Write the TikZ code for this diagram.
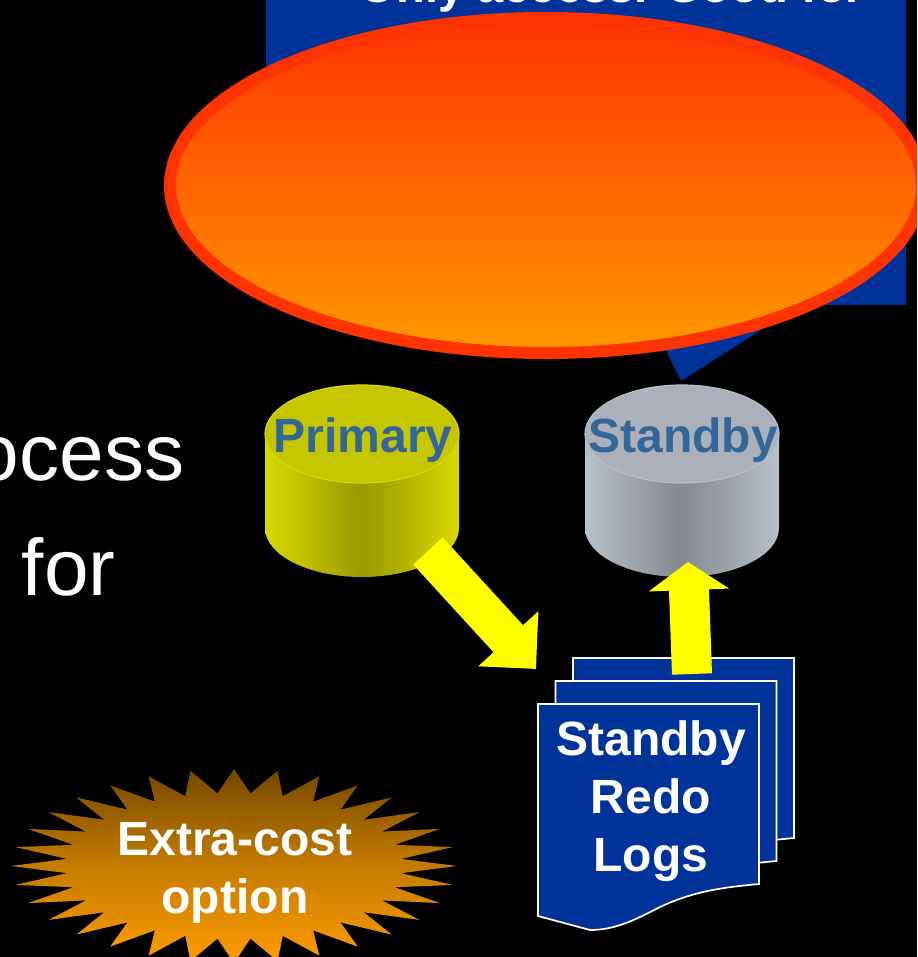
\documentclass[tikz,border=0pt]{standalone}
\usepackage{fontspec}
\setmainfont{Liberation Sans}
\usetikzlibrary{arrows.meta}
\definecolor{slideblue}{HTML}{003399}
\definecolor{calloutred}{HTML}{FF3300}
\definecolor{calloutorange}{HTML}{FF9900}
\definecolor{labelblue}{HTML}{336699}
\definecolor{arrowyellow}{HTML}{FFFF00}
\definecolor{starbrown}{HTML}{744800}
\definecolor{starmid}{HTML}{C47C00}
\definecolor{starorange}{HTML}{FF9C00}
\tikzset{
    bigtext/.style={text=white, font=\fontsize{22.8}{27}\selectfont, inner sep=0pt},
    boldtext/.style={font=\fontsize{13.66}{16.5}\selectfont\bfseries, inner sep=0pt, align=center},
    sheet/.style={fill=slideblue, draw=white, line width=0.017cm},
    blockarrow/.style={arrowyellow, line width=0.4cm, -{Triangle[length=#1, width=0.79cm]}}
}

\begin{document}
\begin{tikzpicture}[x=0.01cm, y=-0.01cm]
    \useasboundingbox (0,0) rectangle (917,957);
    \clip (0,0) rectangle (917,957);
    \fill[black] (0,0) rectangle (917,957);

    % Text running off the left side
    \node[bigtext, anchor=base east] (process) at (185,480) {ocess};
    \node[bigtext, anchor=base east] (purpose) at (116,595) {for};

    % Blue callout behind the ellipse
    \fill[slideblue] (266,-5) rectangle (906,305);
    \fill[slideblue] (642,300) -- (681,381) -- (800,305) -- cycle;
    \node[boldtext, text=white, anchor=base west, font=\fontsize{13.4}{16}\selectfont\bfseries] (access) at (359,2) {Only access. Good for};
    \shadedraw[draw=calloutred, line width=0.12cm, top color=calloutred, bottom color=calloutorange]
        (546,185.5) ellipse [x radius=376, y radius=167.5];

    % Draw databases
    \foreach \x/\edgecol/\midcol/\topcol in {362/D9D900/999900/C6C600, 682/B7BFC9/858A8C/ABB0BA} {
        \definecolor{edgecol}{HTML}{\edgecol}
        \definecolor{midcol}{HTML}{\midcol}
        \definecolor{topcol}{HTML}{\topcol}
        \shade[left color=edgecol, right color=edgecol, middle color=midcol]
            (\x-97,434) -- (\x-97,528) arc[start angle=180, end angle=0, x radius=97, y radius=49]
            -- (\x+97,434) -- cycle;
        \filldraw[fill=topcol, draw=edgecol, line width=0.012cm] (\x,434) ellipse [x radius=97, y radius=49];
    }
    \node[boldtext, text=labelblue, anchor=base] (primary) at (363,452) {Primary};
    \node[boldtext, text=labelblue, anchor=base] (standby) at (683,452) {Standby};

    % Draw log sheets
    \foreach \dx/\dy in {35/-46, 17.5/-23, 0/0} {
        \draw[sheet, shift={(\dx*0.01cm,-\dy*0.01cm)}] (538,704) -- (759,704) -- (759,884)
            .. controls (715,888) and (690,893) .. (660,907)
            .. controls (635,920) and (615,930) .. (590,930)
            -- (538,916) -- cycle;
    }
    \node[boldtext, text=white] (logs) at (651,801) {Standby\\Redo\\Logs};

    \coordinate (primarydb) at (428,551);
    \coordinate (logsin) at (536,669);
    \coordinate (logsout) at (692,674);
    \coordinate (standbydb) at (688,562);
    \draw[blockarrow=0.41cm] (primarydb) -- (logsin);
    \draw[blockarrow=0.28cm] (logsout) -- (standbydb);

    % Draw star, 32 points
    \shade[top color=starbrown, bottom color=starorange, middle color=starmid] (234,769)
        \foreach \k in {1,...,32} {
            -- ({234+168*sin((\k-0.5)*11.25)},{866-73*cos((\k-0.5)*11.25)})
            -- ({234+223*sin(\k*11.25)},{866-97*cos(\k*11.25)})
        } -- cycle;
    \node[boldtext, text=white] (extra) at (235,873) {Extra-cost\\option};
\end{tikzpicture}
\end{document}
